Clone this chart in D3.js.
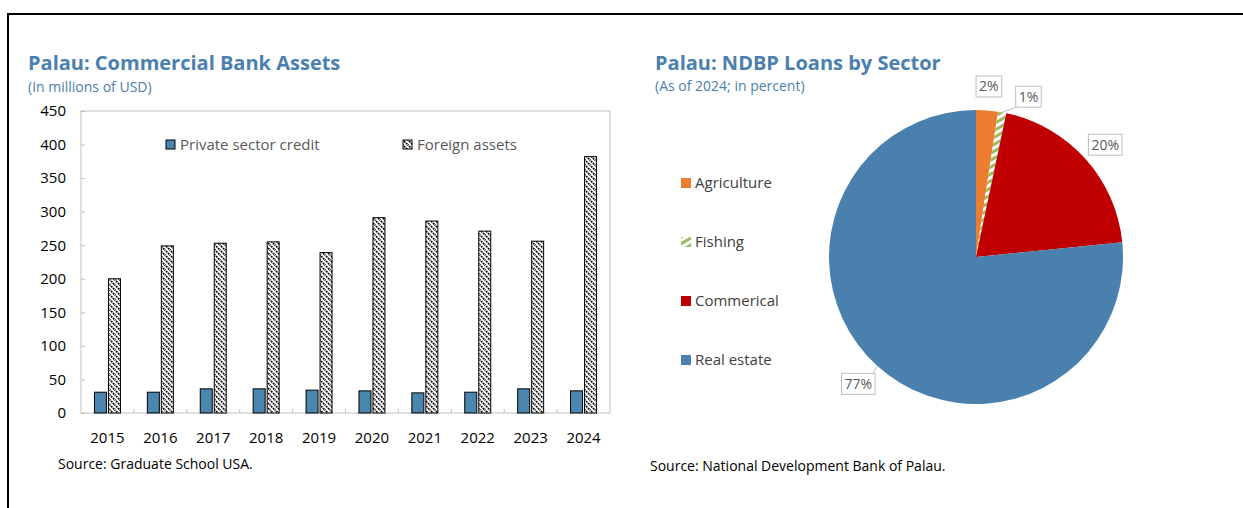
<!DOCTYPE html>
<html>
<head>
<meta charset="utf-8">
<script src="https://cdn.jsdelivr.net/npm/d3@7"></script>
<style>
  body { margin: 0; background: #fff; }
  text { font-family: "Open Sans", "Noto Sans", sans-serif; }
</style>
</head>
<body>
<div id="chart"></div>
<script>
// bar chart data
var years = ["2015", "2016", "2017", "2018", "2019", "2020", "2021", "2022", "2023", "2024"];
var privateCredit = [31, 31, 36, 36, 34, 33, 30, 31, 36, 33];
var foreignAssets = [200, 249, 253, 255, 239, 291, 286, 271, 256, 382];
var seriesNames = ["Private sector credit", "Foreign assets"];
var yTicks = [0, 50, 100, 150, 200, 250, 300, 350, 400, 450];

// pie data
var sectors = ["Agriculture", "Fishing", "Commerical", "Real estate"];
var sectorShares = [2.4, 0.9, 20.1, 76.6];
var sectorLabels = ["2%", "1%", "20%", "77%"];

var svgWidth = 1243;
var svgHeight = 508;
var titleColor = "#4a80ae";

var svg = d3.select("#chart")
  .append("svg")
  .attr("width", svgWidth)
  .attr("height", svgHeight);

var defs = svg.append("defs");

// wide downward diagonal, like the excel pattern
var hatch = defs.append("pattern")
  .attr("id", "hatch")
  .attr("patternUnits", "userSpaceOnUse")
  .attr("width", 5)
  .attr("height", 5);
hatch.append("rect").attr("width", 5).attr("height", 5).attr("fill", "#fff");
hatch.append("path")
  .attr("d", "M-1,-1 L6,6 M-1,4 L1,6 M4,-1 L6,1")
  .attr("stroke", "#000")
  .attr("stroke-width", 1.6)
  .attr("stroke-dasharray", "2,0.8");

var fishHatch = defs.append("pattern")
  .attr("id", "fishHatch")
  .attr("patternUnits", "userSpaceOnUse")
  .attr("width", 6)
  .attr("height", 6)
  .attr("patternTransform", "rotate(-30)");
fishHatch.append("rect").attr("width", 6).attr("height", 6).attr("fill", "#fff");
fishHatch.append("rect").attr("width", 6).attr("height", 3).attr("fill", "#9bbb59");

// frame
svg.append("path")
  .attr("d", "M8,508 L8,14 L1243,14")
  .attr("fill", "none")
  .attr("stroke", "#000")
  .attr("stroke-width", 2);

// ---------------- left chart ----------------
svg.append("text")
  .attr("x", 28).attr("y", 70)
  .attr("fill", titleColor)
  .attr("font-size", 20).attr("font-weight", "bold")
  .text("Palau: Commercial Bank Assets");

svg.append("text")
  .attr("x", 28).attr("y", 92)
  .attr("fill", titleColor)
  .attr("font-size", 14)
  .text("(In millions of USD)");

var plot = { left: 81, top: 111, right: 610, bottom: 413 };

var xScale = d3.scaleBand()
  .domain(years)
  .range([plot.left, plot.right]);

var yScale = d3.scaleLinear()
  .domain([0, 450])
  .range([plot.bottom, plot.top]);

var barW = 12;
var barGap = 2;

var chartGroup = svg.append("g");

// plot area border
chartGroup.append("rect")
  .attr("x", plot.left).attr("y", plot.top)
  .attr("width", plot.right - plot.left)
  .attr("height", plot.bottom - plot.top)
  .attr("fill", "none")
  .attr("stroke", "#bfbfbf");

// y axis
var leftAxis = d3.axisLeft(yScale)
  .tickValues(yTicks)
  .tickSize(-4)
  .tickPadding(15);

var yAxis = chartGroup.append("g")
  .attr("transform", `translate(${plot.left},0)`)
  .call(leftAxis);
yAxis.select(".domain").remove();
yAxis.selectAll("line").attr("stroke", "#bfbfbf");
yAxis.selectAll("text")
  .attr("font-size", 15)
  .attr("fill", "#000")
  .attr("font-family", "Open Sans");

// x axis labels
chartGroup.selectAll(".xlab")
  .data(years)
  .enter()
  .append("text")
  .attr("class", "xlab")
  .attr("x", d => xScale(d) + xScale.bandwidth() / 2)
  .attr("y", 443)
  .attr("text-anchor", "middle")
  .attr("font-size", 15)
  .text(d => d);

// x tick marks between categories
chartGroup.selectAll(".xtick")
  .data(years.slice(1))
  .enter()
  .append("line")
  .attr("x1", d => xScale(d))
  .attr("x2", d => xScale(d))
  .attr("y1", plot.bottom)
  .attr("y2", plot.bottom - 4)
  .attr("stroke", "#bfbfbf");

var centerX = d => xScale(d) + xScale.bandwidth() / 2;

chartGroup.selectAll(".privBar")
  .data(years)
  .enter()
  .append("rect")
  .attr("x", d => centerX(d) - barW - barGap / 2)
  .attr("y", (d, i) => yScale(privateCredit[i]))
  .attr("width", barW)
  .attr("height", (d, i) => yScale(0) - yScale(privateCredit[i]))
  .attr("fill", "#4a86ad")
  .attr("stroke", "#000")
  .attr("stroke-width", 1);

chartGroup.selectAll(".forBar")
  .data(years)
  .enter()
  .append("rect")
  .attr("x", d => centerX(d) + barGap / 2)
  .attr("y", (d, i) => yScale(foreignAssets[i]))
  .attr("width", barW)
  .attr("height", (d, i) => yScale(0) - yScale(foreignAssets[i]))
  .attr("fill", "url(#hatch)")
  .attr("stroke", "#000")
  .attr("stroke-width", 1);

// legend
var legendX = [166, 403];
var legend = chartGroup.selectAll(".leg")
  .data(seriesNames)
  .enter()
  .append("g")
  .attr("transform", (d, i) => `translate(${legendX[i]},140)`);

legend.append("rect")
  .attr("width", 9).attr("height", 9)
  .attr("fill", (d, i) => i === 0 ? "#4a86ad" : "url(#hatch)")
  .attr("stroke", "#000");

legend.append("text")
  .attr("x", 14).attr("y", 10)
  .attr("font-size", 15)
  .attr("fill", "#595959")
  .text(d => d);

svg.append("text")
  .attr("x", 58).attr("y", 469)
  .attr("font-size", 14)
  .attr("fill", "#000")
  .text("Source: Graduate School USA.");

// ---------------- right chart ----------------
svg.append("text")
  .attr("x", 655).attr("y", 70)
  .attr("fill", titleColor)
  .attr("font-size", 20).attr("font-weight", "bold")
  .text("Palau: NDBP Loans by Sector");

svg.append("text")
  .attr("x", 655).attr("y", 91)
  .attr("fill", titleColor)
  .attr("font-size", 14)
  .text("(As of 2024; in percent)");

var sectorColors = ["#ed7d31", "url(#fishHatch)", "#c00000", "#4a80ae"];
var legendSwatch = ["#ed7d31", "#9bbb59", "#c00000", "#4a80ae"];
var pieCenter = { x: 976, y: 257 };
var radius = 147;

var pie = d3.pie().sort(null).value(d => d);
var arcs = pie(sectorShares);

var arc = d3.arc().innerRadius(0).outerRadius(radius);

var pieGroup = svg.append("g")
  .attr("transform", `translate(${pieCenter.x},${pieCenter.y})`);

pieGroup.selectAll("path")
  .data(arcs)
  .enter()
  .append("path")
  .attr("d", arc)
  .attr("fill", (d, i) => sectorColors[i]);

// data labels, placed just outside the pie
var labelArc = d3.arc().innerRadius(171).outerRadius(171);
var labelNudge = [[0, 0], [22, 8], [2, 2], [-3, 0]];
var edgeArc = d3.arc().innerRadius(radius).outerRadius(radius);

var labels = pieGroup.selectAll(".plab")
  .data(arcs)
  .enter()
  .append("g")
  .attr("transform", (d, i) => {
    var c = labelArc.centroid(d);
    return `translate(${c[0] + labelNudge[i][0]},${c[1] + labelNudge[i][1]})`;
  });

labels.append("text")
  .attr("text-anchor", "middle")
  .attr("y", 5)
  .attr("font-size", 14)
  .attr("fill", "#595959")
  .text((d, i) => sectorLabels[i]);

labels.each(function () {
  var g = d3.select(this);
  var bb = g.select("text").node().getBBox();
  g.insert("rect", "text")
    .attr("x", bb.x - 3).attr("y", -10.5)
    .attr("width", bb.width + 6).attr("height", 21)
    .attr("fill", "#fff")
    .attr("stroke", "#bfbfbf");
});

// leader lines for the labels pushed away from their slice
pieGroup.selectAll(".lead")
  .data(arcs.filter((d, i) => i === 1 || i === 3))
  .enter()
  .append("line")
  .attr("x1", d => edgeArc.centroid(d)[0])
  .attr("y1", d => edgeArc.centroid(d)[1])
  .attr("x2", d => d.index === 1 ? labelArc.centroid(d)[0] + labelNudge[1][0] - 11 : labelArc.centroid(d)[0] + labelNudge[3][0] + 14)
  .attr("y2", d => d.index === 1 ? labelArc.centroid(d)[1] + labelNudge[1][1] + 10 : labelArc.centroid(d)[1] - 10)
  .attr("stroke", "#bfbfbf");

// pie legend
var pieLegendY = [183, 242, 301, 360];
var pieLegend = svg.selectAll(".pleg")
  .data(sectors)
  .enter()
  .append("g")
  .attr("transform", (d, i) => `translate(681,${pieLegendY[i]})`);

pieLegend.append("rect")
  .attr("y", -5)
  .attr("width", 10).attr("height", 10)
  .attr("fill", (d, i) => i === 1 ? "url(#fishHatch)" : legendSwatch[i]);

pieLegend.append("text")
  .attr("x", 14).attr("y", 5)
  .attr("font-size", 15)
  .attr("fill", "#404040")
  .text(d => d);

svg.append("text")
  .attr("x", 650).attr("y", 471)
  .attr("font-size", 14)
  .attr("fill", "#000")
  .text("Source: National Development Bank of Palau.");
</script>
</body>
</html>
